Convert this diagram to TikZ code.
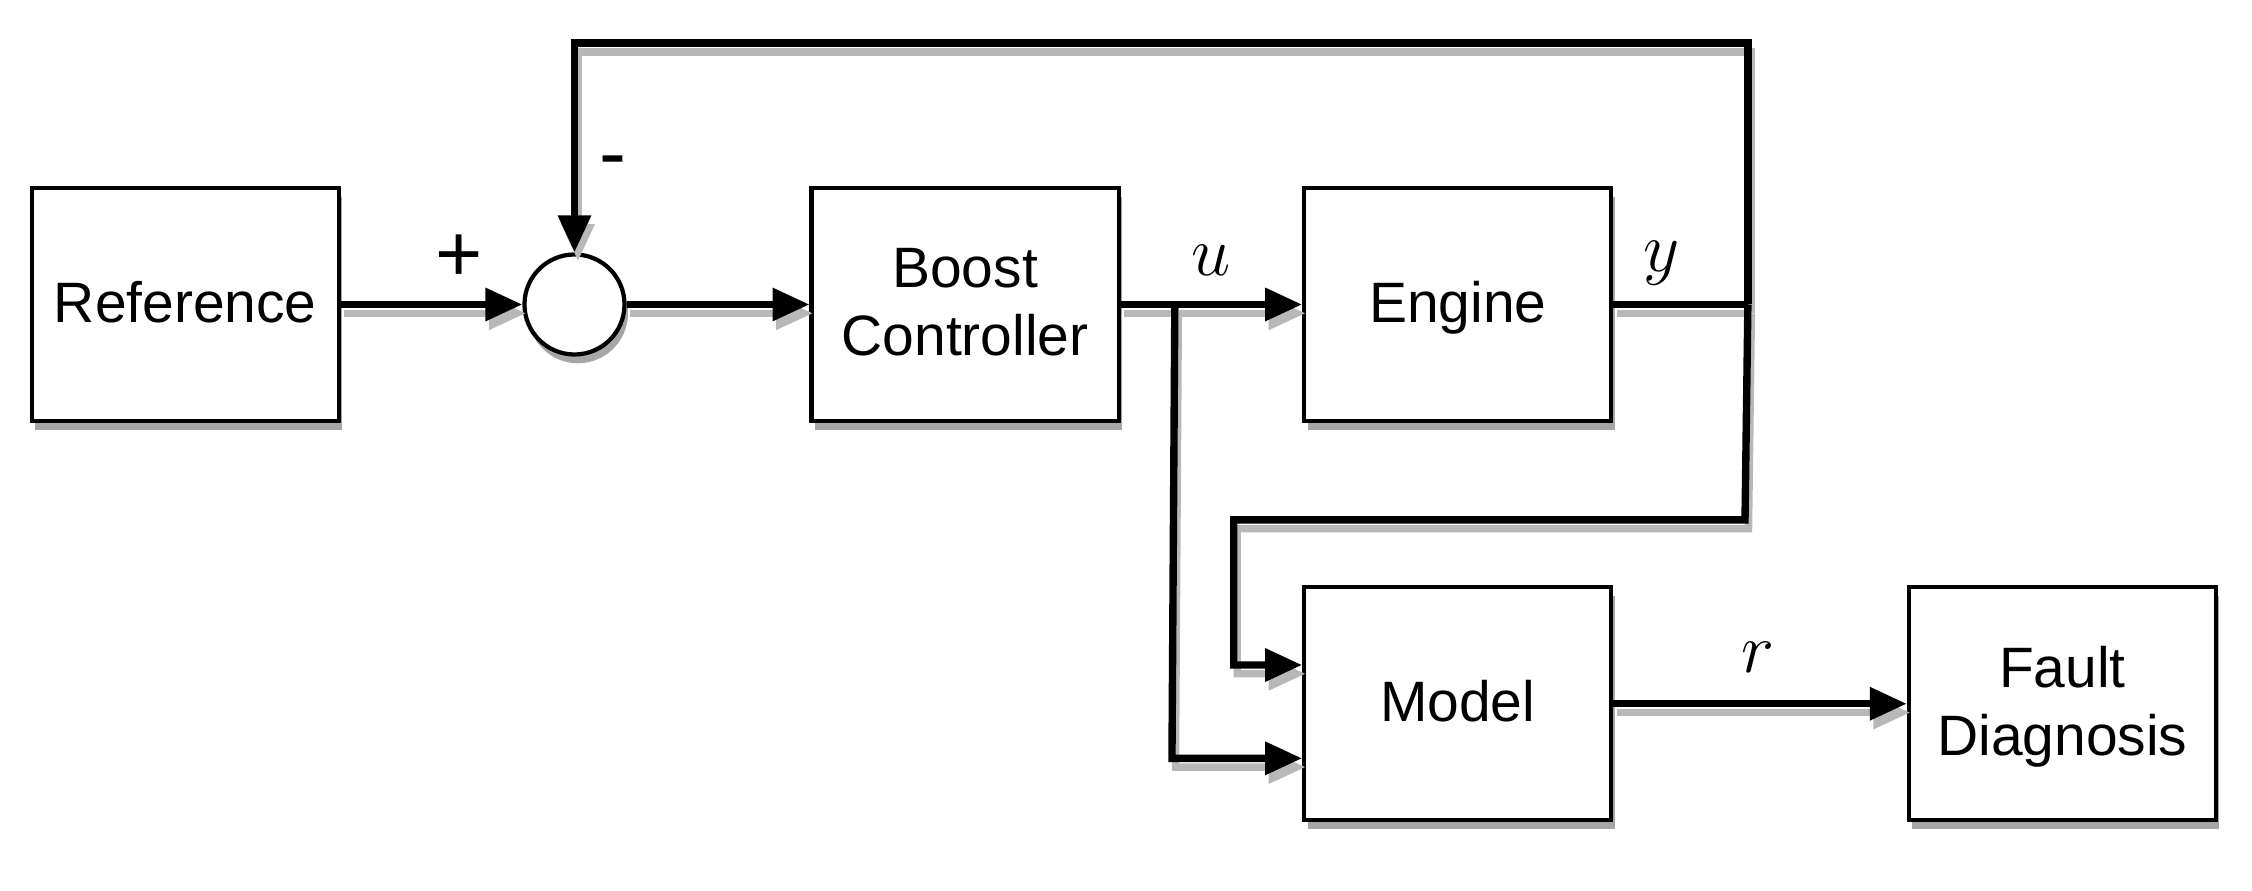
\RequirePackage{fix-cm}
\documentclass[tikz,border=0pt]{standalone}
\usepackage{fontspec}
\setmainfont{Liberation Sans}
\usetikzlibrary{arrows.meta,shadows}
\tikzset{
  block/.style={draw, line width=1.2pt, fill=white, minimum width=3.07cm, minimum height=2.33cm,
    align=center, font=\fontsize{16.2}{19.3}\selectfont, text depth=0.3ex,
    drop shadow={shadow xshift=1pt, shadow yshift=-2.5pt, opacity=0.35, fill=black}},
  sumc/.style={draw, circle, line width=1.2pt, fill=white, minimum size=1.0cm, inner sep=0pt,
    drop shadow={shadow xshift=1pt, shadow yshift=-2.5pt, opacity=0.35, fill=black}},
  wire/.style={line width=2.1pt, preaction={draw=black!28, line width=2.1pt, transform canvas={xshift=1pt,yshift=-2.5pt}}},
  conn/.style={wire, -{Triangle[length=10.5pt,width=9pt]}},
  mlbl/.style={font=\fontsize{20}{24}\selectfont},
  sign/.style={font=\fontsize{23}{26}\selectfont},
}
\begin{document}
\begin{tikzpicture}[x=0.01436cm, y=-0.01436cm]
\useasboundingbox (0,0) rectangle (1568,620);
\node[block] (ref) at (129,212) {Reference};
\node[sumc] (sum) at (400,212) {};
\node[block] (ctrl) at (672,212) {Boost\\Controller};
\node[block] (eng) at (1015,212) {Engine};
\node[block] (model) at (1015,490) {Model};
\node[block] (fd) at (1436,490) {Fault\\Diagnosis};

\coordinate (bu) at (818,212);
\coordinate (bu2) at (816,528);
\coordinate (yb) at (1217,212);
\coordinate (tr) at (1217,30);
\coordinate (tl) at (400,30);
\coordinate (mr) at (1215,362);
\coordinate (ml) at (859,362);
\coordinate (ml2) at (859,463);

\draw[conn] (ref) -- (sum);
\draw[conn] (sum) -- (ctrl);
\draw[conn] (ctrl) -- (eng);
\draw[conn] (bu) -- (bu2) -- (model.west |- bu2);
\draw[wire] (eng) -- (yb);
\draw[conn] (yb) -- (tr) -- (tl) -- (sum);
\draw[conn] (yb) -- (mr) -- (ml) -- (ml2) -- (model.west |- ml2);
\draw[conn] (model) -- (fd);

\node[sign] (plus) at (320,180) {+};
\node[sign] (minus) at (427,117) {-};
\node[mlbl] (lu) at (843,181) {$u$};
\node[mlbl] (ly) at (1157,183) {$y$};
\node[mlbl] (lr) at (1224,458) {$r$};
\end{tikzpicture}
\end{document}
